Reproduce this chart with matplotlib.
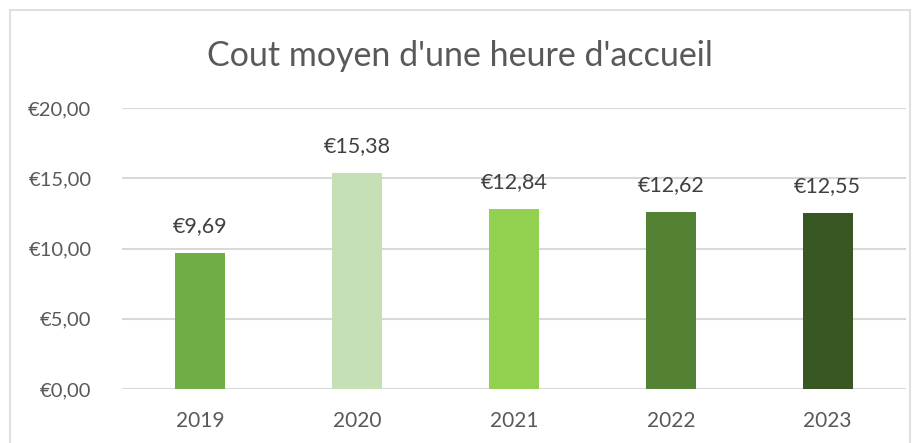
import matplotlib
matplotlib.use('Agg')
import matplotlib.pyplot as plt
from matplotlib.patches import Rectangle

years = ['2019', '2020', '2021', '2022', '2023']
cost = [9.69, 15.38, 12.84, 12.62, 12.55]
bar_colors = ['#70AD47', '#C5E0B4', '#92D050', '#548235', '#385723']
yticks = [0, 5, 10, 15, 20]

plt.rcParams['font.family'] = ['Lato', 'DejaVu Sans']
txt = '#595959'

def euro(v):
    return '€' + f'{v:.2f}'.replace('.', ',')

fig = plt.figure(figsize=(9.2, 4.43), dpi=100)
W, H = 920, 443

# chart border
fig.patches.append(Rectangle((10 / W, -0.1), 900 / W, (H - 10) / H + 0.1,
                             transform=fig.transFigure, fill=False,
                             edgecolor='#D9D9D9', linewidth=1.2))

ax = fig.add_axes([122 / W, 54 / H, 784 / W, 281 / H])
x = range(len(years))
bars = ax.bar(x, cost, width=0.32, color=bar_colors, zorder=3)

ax.set_ylim(0, 20)
ax.set_xlim(-0.5, len(years) - 0.5)
ax.set_yticks(yticks)
ax.set_yticklabels([euro(v) for v in yticks])
ax.set_xticks(list(x))
ax.set_xticklabels(years)
ax.tick_params(axis='both', length=0, colors=txt)
ax.tick_params(axis='y', pad=22, labelsize=14.5)
ax.tick_params(axis='x', pad=16, labelsize=15)
ax.grid(axis='y', color='#D9D9D9', linewidth=1.5, zorder=0)
for s in ax.spines.values():
    s.set_visible(False)

for b, v in zip(bars, cost):
    ax.annotate(euro(v), (b.get_x() + b.get_width() / 2, v),
                xytext=(0, 12), textcoords='offset points',
                ha='center', va='bottom', fontsize=15.5, color='#404040')

fig.text(0.5, (H - 56) / H, "Cout moyen d'une heure d'accueil",
         ha='center', va='center', fontsize=24.5, color=txt)

fig.savefig('out.png', dpi=100, facecolor='white')
